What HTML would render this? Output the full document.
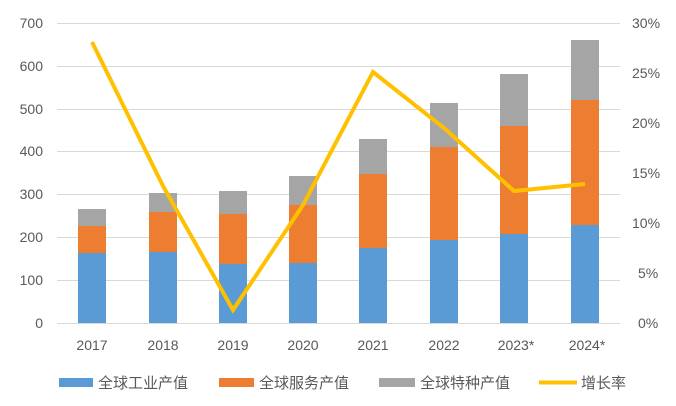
<!DOCTYPE html>
<html><head><meta charset="utf-8"><style>
html,body{margin:0;padding:0;background:#fff;}
svg{display:block;font-family:"Liberation Sans","Noto Sans CJK SC",sans-serif;}
</style></head><body>
<svg width="676" height="406" viewBox="0 0 676 406">
<g stroke="#d9d9d9" stroke-width="1">
<line x1="57" x2="620" y1="23.5" y2="23.5"/><line x1="57" x2="620" y1="66.5" y2="66.5"/>
<line x1="57" x2="620" y1="109.5" y2="109.5"/><line x1="57" x2="620" y1="151.5" y2="151.5"/>
<line x1="57" x2="620" y1="194.5" y2="194.5"/><line x1="57" x2="620" y1="237.5" y2="237.5"/>
<line x1="57" x2="620" y1="280.5" y2="280.5"/><line x1="57" x2="620" y1="323.5" y2="323.5"/>
</g>
<g font-size="14" fill="#595959" text-anchor="end">
<text x="43" y="28">700</text><text x="43" y="71">600</text><text x="43" y="114">500</text>
<text x="43" y="156">400</text><text x="43" y="199">300</text><text x="43" y="242">200</text>
<text x="43" y="285">100</text><text x="43" y="328">0</text>
</g>
<g font-size="14" fill="#595959">
<text x="632" y="28">30%</text><text x="632" y="78">25%</text><text x="632" y="128">20%</text>
<text x="632" y="178">15%</text><text x="632" y="228">10%</text><text x="638" y="278">5%</text>
<text x="638" y="328">0%</text>
</g>
<g id="bars">
<!-- x, blue top, orange top, grey top -->
<rect x="78" y="253" width="28" height="70" fill="#5B9BD5"/><rect x="78" y="226" width="28" height="27" fill="#ED7D31"/><rect x="78" y="209" width="28" height="17" fill="#A5A5A5"/>
<rect x="149" y="252" width="28" height="71" fill="#5B9BD5"/><rect x="149" y="212" width="28" height="40" fill="#ED7D31"/><rect x="149" y="193" width="28" height="19" fill="#A5A5A5"/>
<rect x="219" y="264" width="28" height="59" fill="#5B9BD5"/><rect x="219" y="214" width="28" height="50" fill="#ED7D31"/><rect x="219" y="191" width="28" height="23" fill="#A5A5A5"/>
<rect x="289" y="263" width="28" height="60" fill="#5B9BD5"/><rect x="289" y="205" width="28" height="58" fill="#ED7D31"/><rect x="289" y="176" width="28" height="29" fill="#A5A5A5"/>
<rect x="359" y="248" width="28" height="75" fill="#5B9BD5"/><rect x="359" y="174" width="28" height="74" fill="#ED7D31"/><rect x="359" y="139" width="28" height="35" fill="#A5A5A5"/>
<rect x="430" y="240" width="28" height="83" fill="#5B9BD5"/><rect x="430" y="147" width="28" height="93" fill="#ED7D31"/><rect x="430" y="103" width="28" height="44" fill="#A5A5A5"/>
<rect x="500" y="234" width="28" height="89" fill="#5B9BD5"/><rect x="500" y="126" width="28" height="108" fill="#ED7D31"/><rect x="500" y="74" width="28" height="52" fill="#A5A5A5"/>
<rect x="571" y="225" width="28" height="98" fill="#5B9BD5"/><rect x="571" y="100" width="28" height="125" fill="#ED7D31"/><rect x="571" y="40" width="28" height="60" fill="#A5A5A5"/>
</g>
<polyline points="92,42 163,186 233,310 303,205 373,72 444,128 514,191 585,184" fill="none" stroke="#FFC000" stroke-width="4" stroke-linejoin="miter"/>
<g font-size="14" fill="#595959" text-anchor="middle">
<text x="92" y="350">2017</text><text x="163" y="350">2018</text><text x="233" y="350">2019</text>
<text x="303" y="350">2020</text><text x="373" y="350">2021</text><text x="444" y="350">2022</text>
<text x="516" y="350">2023*</text><text x="587" y="350">2024*</text>
</g>
<rect x="59" y="378" width="34" height="9" fill="#5B9BD5"/>
<rect x="219" y="378" width="35" height="9" fill="#ED7D31"/>
<rect x="379" y="378" width="36" height="9" fill="#A5A5A5"/>
<line x1="539" x2="577" y1="382.5" y2="382.5" stroke="#FFC000" stroke-width="4"/>
<g font-size="15" fill="#595959">
<text x="98" y="388">全球工业产值</text><text x="259" y="388">全球服务产值</text>
<text x="420" y="388">全球特种产值</text><text x="581" y="388">增长率</text>
</g>
</svg>
</body></html>
